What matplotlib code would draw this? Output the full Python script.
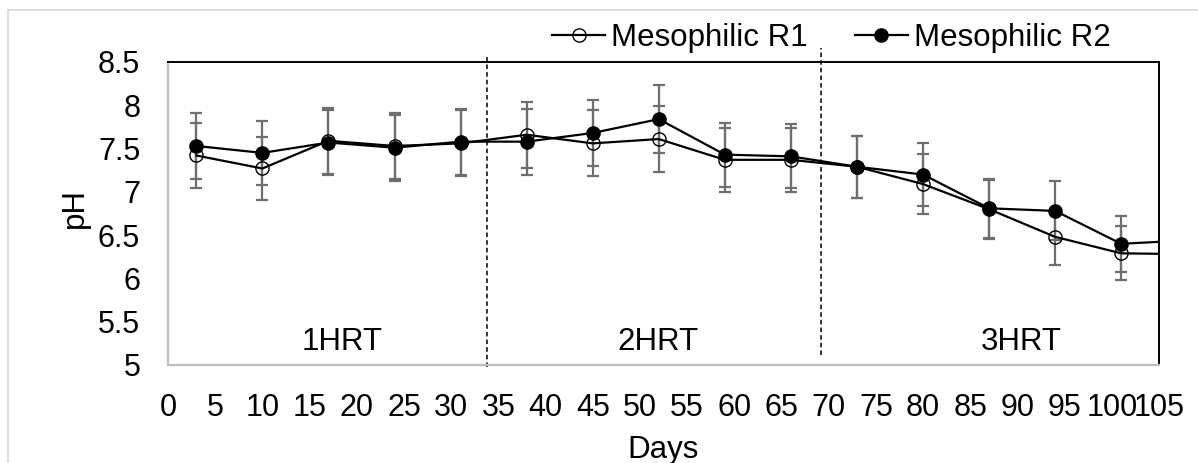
import matplotlib
matplotlib.use("Agg")
import matplotlib.pyplot as plt
from matplotlib.lines import Line2D

plt.rcParams['font.family'] = ['Liberation Sans', 'DejaVu Sans']

days = [3, 10, 17, 24, 31, 38, 45, 52, 59, 66, 73, 80, 87, 94, 101, 108]
r1 = [7.42, 7.27, 7.59, 7.53, 7.56, 7.66, 7.56, 7.61, 7.37, 7.37, 7.29, 7.09, 6.80, 6.48, 6.29, 6.28]
r2 = [7.53, 7.45, 7.57, 7.51, 7.58, 7.58, 7.68, 7.84, 7.43, 7.41, 7.29, 7.20, 6.81, 6.78, 6.40, 6.44]
r1_err = [0.37, 0.36, 0.38, 0.38, 0.38, 0.38, 0.38, 0.38, 0.37, 0.37, 0.36, 0.35, 0.34, 0.32, 0.31, 0.31]
r2_err = [0.38, 0.37, 0.38, 0.38, 0.38, 0.38, 0.38, 0.39, 0.37, 0.37, 0.36, 0.36, 0.34, 0.34, 0.32, 0.32]
series_names = ["Mesophilic R1", "Mesophilic R2"]
phase_labels = ["1HRT", "2HRT", "3HRT"]
phase_label_x = [18.4, 51.9, 90.4]
phase_bounds = [33.8, 69.2]
yticks = [5, 5.5, 6, 6.5, 7, 7.5, 8, 8.5]
xticks = list(range(0, 106, 5))

W, H = 1198, 463
fig = plt.figure(figsize=(W / 100, H / 100), dpi=100)
ax = fig.add_axes([168 / W, 1 - 365 / H, (1159 - 168) / W, (365 - 62) / H])

# outer chart border (light gray)
fig.add_artist(Line2D([8 / W, 8 / W], [0, 1 - 10 / H], transform=fig.transFigure, color='#D9D9D9', lw=1.2))
fig.add_artist(Line2D([8 / W, 1], [1 - 10 / H, 1 - 10 / H], transform=fig.transFigure, color='#D9D9D9', lw=1.2))

ecol = '#6E6E6E'
ax.errorbar(days, r1, yerr=r1_err, fmt='none', ecolor=ecol, elinewidth=1.6, capsize=4, capthick=1.6, zorder=2)
ax.errorbar(days, r2, yerr=r2_err, fmt='none', ecolor=ecol, elinewidth=1.6, capsize=4, capthick=1.6, zorder=2)
l1, = ax.plot(days, r1, color='black', lw=1.6, marker='o', ms=9.5, mfc='none', mec='black', mew=1.0, zorder=3,
              label=series_names[0])
l2, = ax.plot(days, r2, color='black', lw=1.6, marker='o', ms=9.5, mfc='black', mec='black', zorder=4,
              label=series_names[1])

ax.set_xlim(0, 105)
ax.set_ylim(5, 8.5)
ax.set_xticks(xticks)
ax.set_xticklabels([str(v) for v in xticks])
ax.set_yticks(yticks)
ax.set_yticklabels([('%g' % v) for v in yticks])
ax.tick_params(axis='both', length=0, labelsize=22)
ax.tick_params(axis='y', pad=20)
ax.tick_params(axis='x', pad=20)

for side in ['top', 'right']:
    ax.spines[side].set_color('black')
    ax.spines[side].set_linewidth(1.4)
for side in ['left', 'bottom']:
    ax.spines[side].set_color('#BFBFBF')
    ax.spines[side].set_linewidth(1.6)

# phase boundaries (dashed)
ax.plot([phase_bounds[0], phase_bounds[0]], [4.98, 8.56], ls=(0, (3, 2)), color='black', lw=1.1, clip_on=False, zorder=1)
ax.plot([phase_bounds[1], phase_bounds[1]], [5.12, 8.66], ls=(0, (3, 2)), color='black', lw=1.1, clip_on=False, zorder=1)

for lab, xp in zip(phase_labels, phase_label_x):
    ax.text(xp, 5.26, lab, ha='center', va='center', fontsize=22.5)

fig.text(75 / W, 1 - 208 / H, 'pH', rotation=90, ha='center', va='center', fontsize=22.5)
fig.text(663 / W, 1 - 450 / H, 'Days', ha='center', va='center', fontsize=22.5)

fig.legend(handles=[l1, l2], loc='center left', bbox_to_anchor=(552 / W, 1 - 38 / H), ncol=2, frameon=False,
           fontsize=22.5, handlelength=1.7, handletextpad=0.2, columnspacing=1.5, borderaxespad=0, borderpad=0)

fig.savefig('out.png', dpi=100, facecolor='white')
